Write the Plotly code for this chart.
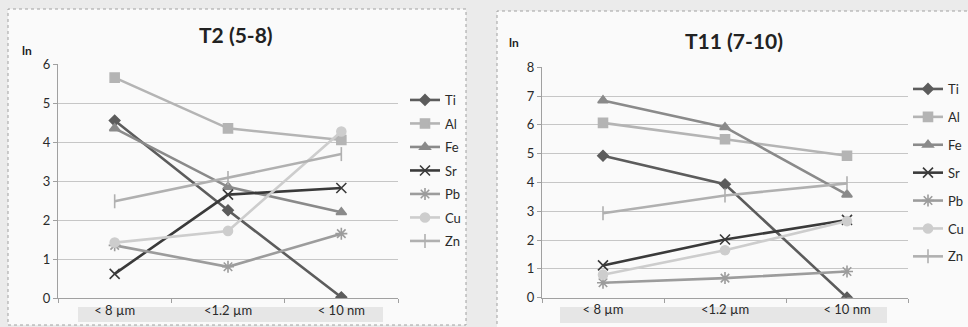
import plotly.graph_objects as go

categories = ["< 8 µm", "<1.2 µm", "< 10 nm"]
series_names = ["Ti", "Al", "Fe", "Sr", "Pb", "Cu", "Zn"]

# T2 (5-8)
t2_ti = [4.55, 2.25, 0.02]
t2_al = [5.65, 4.35, 4.05]
t2_fe = [4.35, 2.85, 2.2]
t2_sr = [0.62, 2.65, 2.82]
t2_pb = [1.35, 0.8, 1.65]
t2_cu = [1.42, 1.72, 4.27]
t2_zn = [2.48, 3.08, 3.69]

# T11 (7-10)
t11_ti = [4.93, 3.94, 0.0]
t11_al = [6.07, 5.5, 4.93]
t11_fe = [6.85, 5.92, 3.58]
t11_sr = [1.12, 2.02, 2.7]
t11_pb = [0.52, 0.68, 0.91]
t11_cu = [0.8, 1.65, 2.66]
t11_zn = [2.93, 3.55, 3.97]

t2_values = [t2_ti, t2_al, t2_fe, t2_sr, t2_pb, t2_cu, t2_zn]
t11_values = [t11_ti, t11_al, t11_fe, t11_sr, t11_pb, t11_cu, t11_zn]

colors = ["#5c5c5c", "#b4b4b4", "#8a8a8a", "#3a3a3a", "#9c9c9c", "#cdcdcd", "#b0b0b0"]
symbols = ["diamond", "square", "triangle-up", "x-thin-open", "asterisk-open", "circle", "line-ns-open"]
msizes = [8, 9, 9, 10, 10, 9, 10]

W, H = 968, 327
def px(x):
    return x / W
def py(y):
    return 1 - y / H

fig = go.Figure()

for i, name in enumerate(series_names):
    fig.add_trace(go.Scatter(
        x=categories, y=t2_values[i], name=name, mode="lines+markers",
        line=dict(color=colors[i], width=2.6),
        marker=dict(symbol=symbols[i], size=msizes[i], color=colors[i],
                    line=dict(color=colors[i], width=1.6)),
        xaxis="x", yaxis="y", legend="legend", legendgroup="a" + name,
    ))
for i, name in enumerate(series_names):
    fig.add_trace(go.Scatter(
        x=categories, y=t11_values[i], name=name, mode="lines+markers",
        line=dict(color=colors[i], width=2.6),
        marker=dict(symbol=symbols[i], size=msizes[i], color=colors[i],
                    line=dict(color=colors[i], width=1.6)),
        xaxis="x2", yaxis="y2", legend="legend2", legendgroup="b" + name,
    ))

font_family = "Lato, 'Open Sans', sans-serif"
axis_common = dict(showline=True, linecolor="#a0a0a0", linewidth=1, automargin=False,
                   tickfont=dict(family=font_family, size=13, color="#2a2a2a"))
grid = dict(showgrid=True, gridcolor="#c6c6c6", gridwidth=1, zeroline=False)

def label(text, x, y, size):
    return dict(text=text, x=px(x), y=py(y), xref="paper", yref="paper",
                xanchor="center", yanchor="middle", showarrow=False,
                font=dict(family=font_family, size=size, color="#222"))

fig.update_layout(
    width=W, height=H,
    margin=dict(l=0, r=0, t=0, b=0, autoexpand=False),
    paper_bgcolor="#ebebeb",
    plot_bgcolor="rgba(0,0,0,0)",
    font=dict(family=font_family, color="#333"),
    xaxis=dict(domain=[px(58), px(398)], anchor="y", type="category",
               range=[-0.5, 2.5], tickson="boundaries", ticks="outside",
               ticklen=4, tickcolor="#a0a0a0", showgrid=False, **axis_common),
    yaxis=dict(domain=[py(298), py(64)], anchor="x", range=[0, 6], dtick=1,
               ticks="outside", ticklen=4, tickcolor="#a0a0a0", **grid, **axis_common),
    xaxis2=dict(domain=[px(542), px(908)], anchor="y2", type="category",
                range=[-0.5, 2.5], tickson="boundaries", ticks="outside",
                ticklen=4, tickcolor="#a0a0a0", showgrid=False, **axis_common),
    yaxis2=dict(domain=[py(297.7), py(67.3)], anchor="x2", range=[0, 8], dtick=1,
                ticks="outside", ticklen=4, tickcolor="#a0a0a0", **grid, **axis_common),
    legend=dict(x=px(405), y=py(85), xanchor="left", yanchor="top",
                bgcolor="rgba(0,0,0,0)", tracegroupgap=3.6,
                font=dict(family=font_family, size=13, color="#2a2a2a"),
                itemwidth=30),
    legend2=dict(x=px(908), y=py(74), xanchor="left", yanchor="top",
                 bgcolor="rgba(0,0,0,0)", tracegroupgap=8,
                 font=dict(family=font_family, size=13, color="#2a2a2a"),
                 itemwidth=30),
    shapes=[
        dict(type="rect", xref="paper", yref="paper", x0=px(8), x1=px(466),
             y0=py(325), y1=py(9), line=dict(color="#a0a0a0", width=1, dash="dot"),
             fillcolor="#fafafa", layer="below"),
        dict(type="rect", xref="paper", yref="paper", x0=px(497), x1=px(975),
             y0=py(335), y1=py(11), line=dict(color="#a0a0a0", width=1, dash="dot"),
             fillcolor="#fafafa", layer="below"),
        dict(type="rect", xref="paper", yref="paper", x0=px(78), x1=px(383),
             y0=py(322), y1=py(307), line=dict(width=0),
             fillcolor="#e6e6e6", layer="below"),
        dict(type="rect", xref="paper", yref="paper", x0=px(560), x1=px(887),
             y0=py(323), y1=py(307), line=dict(width=0),
             fillcolor="#e6e6e6", layer="below"),
    ],
    annotations=[
        label("<b>T2 (5-8)</b>", 236, 35, 21),
        label("<b>T11 (7-10)</b>", 734, 41, 21),
        label("<b>ln</b>", 27, 50, 12),
        label("<b>ln</b>", 514, 42, 12),
    ],
)

fig.write_html("out.html", config={"displayModeBar": False},
               post_script="document.body.style.margin='0';")
